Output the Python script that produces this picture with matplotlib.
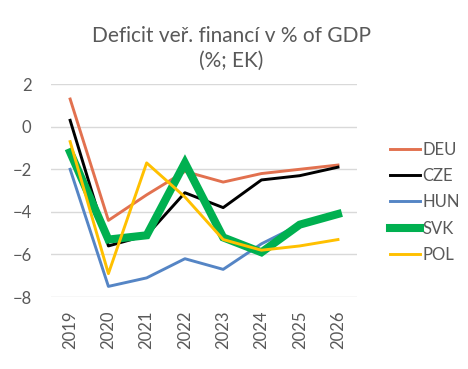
import numpy as np
import matplotlib.pyplot as plt

plt.rcParams['font.family'] = ['Lato', 'DejaVu Sans']

years = ["2019", "2020", "2021", "2022", "2023", "2024", "2025", "2026"]
deu = [1.3, -4.4, -3.2, -2.1, -2.6, -2.2, -2.0, -1.8]
cze = [0.3, -5.6, -5.1, -3.1, -3.8, -2.5, -2.3, -1.9]
hun = [-2.0, -7.5, -7.1, -6.2, -6.7, -5.5, -4.6, -4.1]
svk = [-1.2, -5.3, -5.1, -1.7, -5.2, -5.9, -4.6, -4.1]
pol = [-0.7, -6.9, -1.7, -3.3, -5.3, -5.8, -5.6, -5.3]

fig = plt.figure(figsize=(4.68, 3.69), dpi=100)
ax = fig.add_axes([0.109, 0.195, 0.654, 0.577])

x = np.arange(len(years))
ax.plot(x, deu, color="#E2714F", lw=2.1, label="DEU")
ax.plot(x, cze, color="black", lw=2.1, label="CZE")
ax.plot(x, hun, color="#5585C5", lw=2.1, label="HUN")
ax.plot(x, svk, color="#00B050", lw=5.8, label="SVK", solid_joinstyle="miter")
ax.plot(x, pol, color="#FFC000", lw=2.1, label="POL")

ax.set_xlim(-0.5, len(years) - 0.5)
ax.set_ylim(-8, 2)
ax.set_yticks(range(-8, 3, 2))
ax.set_xticks(x)
ax.set_xticklabels(years, rotation=90)
ax.grid(axis="y", color="#d9d9d9", lw=1)
ax.set_axisbelow(True)
for s in ax.spines.values():
    s.set_visible(False)
ax.tick_params(length=0, labelsize=12, colors="#595959", pad=10)
ax.tick_params(axis="y", pad=14)

leg = ax.legend(loc="center left", bbox_to_anchor=(1.06, 0.445), frameon=False,
                fontsize=12, handlelength=1.8, handletextpad=0.1, labelspacing=0.62,
                labelcolor="#595959")

fig.text(0.495, 0.87, "Deficit veř. financí v % of GDP\n(%; EK)", ha="center", va="center",
         fontsize=15, color="#595959", linespacing=1.3)

fig.savefig("out.png", dpi=100)
